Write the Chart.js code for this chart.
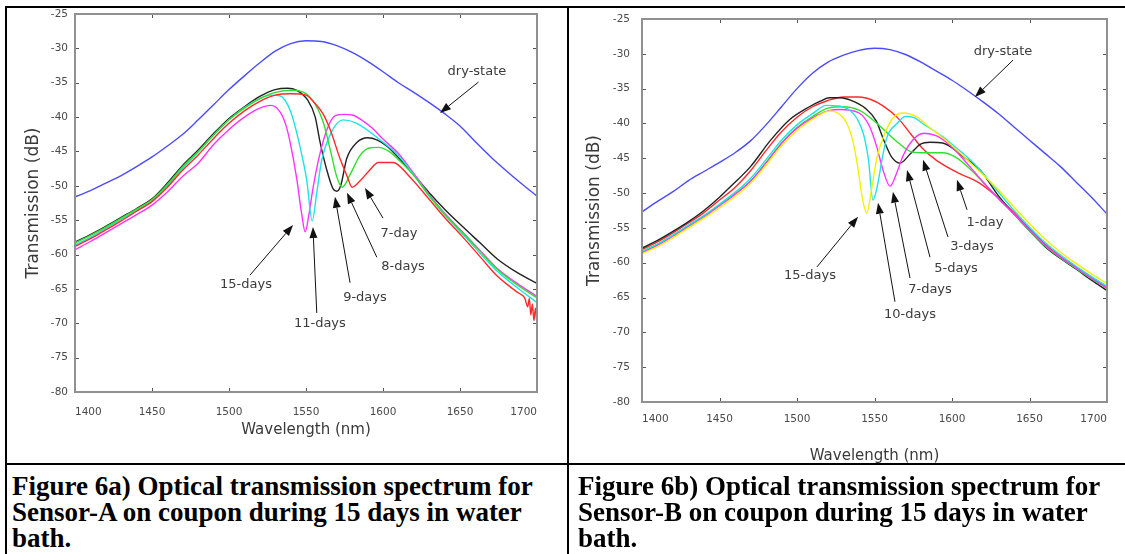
<!DOCTYPE html>
<html lang="en">
<head>
<meta charset="utf-8">
<title>Optical transmission spectra, Sensor-A and Sensor-B</title>
<script src="https://cdn.jsdelivr.net/npm/chart.js@4.4.1/dist/chart.umd.min.js"></script>
<style>
  html, body { margin: 0; padding: 0; background: #fff; }
  body { position: relative; width: 1125px; height: 554px; overflow: hidden; }
  canvas { position: absolute; top: 0; filter: blur(0.5px); }
  #spectrum-a { left: 0; }
  #spectrum-b { left: 568px; }
  .rule { position: absolute; background: #000; }
  .caption {
    position: absolute; top: 473px; margin: 0;
    font: bold 27px "Liberation Serif", "Times New Roman", serif;
    line-height: 26px; color: #000; white-space: nowrap;
  }
</style>
</head>
<body>
<canvas id="spectrum-a" width="568" height="463"></canvas>
<canvas id="spectrum-b" width="557" height="470"></canvas>

<div class="rule" style="left:5px; top:6px; width:1120px; height:2px"></div>
<div class="rule" style="left:5px; top:6px; width:2px; height:548px"></div>
<div class="rule" style="left:567px; top:6px; width:2px; height:548px"></div>
<div class="rule" style="left:5px; top:463px; width:1120px; height:2px"></div>

<p class="caption" style="left:12px">Figure 6a) Optical transmission spectrum for<br>Sensor-A on coupon during 15 days in water<br>bath.</p>
<p class="caption" style="left:578px">Figure 6b) Optical transmission spectrum for<br>Sensor-B on coupon during 15 days in water<br>bath.</p>

<script>
(function () {
  const wavelengthTicks = [1400, 1450, 1500, 1550, 1600, 1650, 1700];
  const transmissionTicks = [-80, -75, -70, -65, -60, -55, -50, -45, -40, -35, -30, -25];

  // Sensor-A spectra, [wavelength (nm), transmission (dB)]
  const dryA = [[1400,-51.6],[1410,-50.7],[1420,-49.6],[1430,-48.5],[1440,-47.2],[1450,-45.8],[1460,-44.2],[1470,-42.5],[1480,-40.4],[1490,-38.2],[1500,-36],[1510,-34],[1520,-32.1],[1530,-30.4],[1540,-29.3],[1550,-28.9],[1560,-29],[1570,-29.6],[1580,-30.6],[1590,-31.9],[1600,-33.4],[1610,-35],[1620,-36.4],[1630,-37.9],[1640,-39.5],[1650,-41.3],[1660,-43.6],[1670,-45.8],[1680,-47.8],[1690,-49.7],[1700,-51.5]];
  const day7A = [[1400,-58.8],[1410,-57.7],[1420,-56.4],[1430,-55.1],[1440,-53.7],[1450,-52.3],[1460,-50.2],[1470,-47.7],[1480,-45.5],[1490,-43.1],[1500,-40.9],[1510,-39.1],[1520,-37.7],[1530,-36.8],[1540,-36.6],[1550,-36.8],[1555,-37.8],[1561,-39.5],[1566,-42],[1572,-46],[1576.5,-48.5],[1580,-50.2],[1585,-49.3],[1591,-47.8],[1597,-46.6],[1606.5,-46.6],[1617,-48.6],[1629,-51.7],[1640,-54.6],[1652,-57.5],[1663,-60.3],[1674,-63.1],[1682,-64.6],[1688,-65.6],[1692,-66.3],[1694,-67.6],[1695,-66.4],[1696,-68.8],[1697,-67.2],[1698,-69.6],[1699,-67.8],[1700,-70.2]];
  const day8A = [[1400,-58.3],[1410,-57.2],[1420,-56],[1430,-54.7],[1440,-53.4],[1450,-52],[1460,-49.8],[1470,-47.2],[1480,-45],[1490,-42.6],[1500,-40.4],[1510,-38.7],[1520,-37.3],[1530,-36.4],[1542,-36.1],[1553,-37.2],[1561,-40.6],[1566,-45],[1570,-48.7],[1573.5,-50.2],[1579,-48.2],[1585,-45.6],[1591,-44.5],[1597,-44.4],[1604,-45],[1611,-46.4],[1620,-48.5],[1630,-51.4],[1640,-54.1],[1652,-56.9],[1663,-59.5],[1674,-62.1],[1687,-64.4],[1700,-66.3]];
  const day9A = [[1400,-58.2],[1410,-57.1],[1420,-55.9],[1430,-54.6],[1440,-53.3],[1450,-51.9],[1460,-49.6],[1470,-47],[1480,-44.8],[1490,-42.4],[1500,-40.2],[1510,-38.5],[1520,-37],[1530,-36],[1538,-35.8],[1544,-36.1],[1551,-37.5],[1556,-40],[1559,-43.5],[1563.5,-47.7],[1567.5,-50.4],[1570,-50.8],[1572.5,-50],[1576.5,-46],[1583,-43.7],[1590,-43],[1596,-43.3],[1603,-44.3],[1612,-46.4],[1620,-48.4],[1630,-51],[1640,-53.4],[1652,-56],[1663,-58.3],[1674,-60.6],[1687,-62.6],[1700,-64.2]];
  const day11A = [[1400,-58.6],[1410,-57.5],[1420,-56.2],[1430,-54.9],[1440,-53.6],[1450,-52.2],[1460,-50],[1470,-47.4],[1480,-45.1],[1490,-42.6],[1500,-40.4],[1510,-38.6],[1520,-37.3],[1527,-36.8],[1533,-36.9],[1540,-39.2],[1546,-44.2],[1550.5,-49.2],[1554,-55.1],[1557,-51],[1560,-46.5],[1566,-42.4],[1574,-40.4],[1583,-40.9],[1598,-43.3],[1610,-45.6],[1620,-48.4],[1630,-51.5],[1640,-54.2],[1652,-57.1],[1663,-59.8],[1674,-62.4],[1687,-64.8],[1700,-67]];
  const day15A = [[1400,-59.3],[1410,-58.1],[1420,-56.8],[1430,-55.5],[1440,-54.2],[1450,-52.8],[1460,-50.9],[1470,-48.6],[1480,-46.7],[1490,-44],[1500,-41.8],[1510,-40],[1520,-38.7],[1527,-38.3],[1533,-39.2],[1537,-41.2],[1540,-44],[1544,-49],[1547,-53.8],[1549.5,-56.7],[1552,-54],[1554.5,-50.4],[1559,-45.4],[1564,-41.6],[1569,-39.8],[1575,-39.6],[1580,-39.7],[1586,-40.4],[1593,-41.6],[1600,-43.2],[1610,-45.3],[1620,-48.2],[1630,-51.3],[1640,-54],[1652,-56.8],[1663,-59.4],[1674,-62],[1687,-64.2],[1700,-66.1]];

  // Sensor-B spectra
  const dryB = [[1400,-52.7],[1410,-51.2],[1420,-49.8],[1430,-48.2],[1440,-46.9],[1450,-45.6],[1460,-44.2],[1470,-42.5],[1480,-40.2],[1490,-37.6],[1500,-35],[1510,-32.8],[1520,-31.2],[1530,-30.2],[1540,-29.5],[1550,-29.2],[1560,-29.4],[1570,-30.1],[1580,-31.2],[1590,-32.5],[1600,-33.8],[1610,-35.3],[1620,-36.9],[1630,-38.6],[1640,-40.5],[1650,-42.4],[1660,-44.3],[1670,-46.2],[1680,-48.4],[1690,-50.6],[1700,-53]];
  const day1B = [[1400,-58.1],[1410,-57],[1420,-55.7],[1430,-54.3],[1440,-52.8],[1450,-51],[1460,-49.2],[1470,-46.8],[1480,-43.9],[1490,-41.2],[1500,-39.1],[1510,-37.6],[1520,-36.7],[1530,-36.2],[1540,-36.2],[1548,-36.6],[1555,-37.4],[1565,-39.2],[1573,-41.4],[1581,-43.6],[1590,-45.3],[1603,-47],[1618,-48.6],[1630,-50.7],[1640,-52.8],[1650,-55.1],[1660,-57.3],[1670,-59.1],[1680,-60.6],[1690,-62.1],[1700,-63.5]];
  const day3B = [[1400,-58.5],[1410,-57.4],[1420,-56.1],[1430,-54.7],[1440,-53.3],[1450,-51.7],[1460,-50.1],[1470,-48.3],[1480,-45.6],[1490,-42.8],[1500,-40.6],[1510,-39],[1520,-37.8],[1530,-37.6],[1540,-38.1],[1549,-39.5],[1557,-41.1],[1565.5,-42.8],[1573,-44],[1580,-44.2],[1594,-44.2],[1602,-44.8],[1612,-46.6],[1622,-48.9],[1632,-51.2],[1640,-53],[1650,-55.4],[1660,-57.6],[1670,-59.3],[1680,-60.8],[1690,-62.3],[1700,-63.7]];
  const day5B = [[1400,-57.9],[1410,-56.8],[1420,-55.5],[1430,-54.1],[1440,-52.5],[1450,-50.6],[1457,-49.1],[1470,-46.2],[1483,-42.4],[1495,-39.5],[1508,-37.6],[1515,-36.8],[1521,-36.3],[1528,-36.3],[1535,-36.7],[1544,-37.8],[1551,-39.6],[1556,-42.4],[1561,-44.8],[1566.5,-45.7],[1573,-44.4],[1579.5,-43],[1586,-42.7],[1594,-42.8],[1607.5,-44.8],[1618.5,-46.8],[1630,-50.4],[1640,-53],[1650,-55.4],[1660,-57.7],[1670,-59.4],[1680,-60.9],[1690,-62.5],[1700,-64]];
  const day7B = [[1400,-58.6],[1410,-57.5],[1420,-56.2],[1430,-54.8],[1440,-53.4],[1450,-51.8],[1460,-50.2],[1470,-48.3],[1480,-45.7],[1490,-42.9],[1500,-40.7],[1510,-39.2],[1520,-38.2],[1528,-38],[1540,-38.5],[1547,-40.5],[1551.5,-43.4],[1555.5,-46.7],[1560,-49],[1564.5,-47],[1568.5,-44.6],[1575,-42.3],[1582,-41.4],[1590,-41.8],[1600,-43.4],[1610,-45.8],[1620,-48.4],[1630,-50.8],[1640,-53],[1650,-55.3],[1660,-57.5],[1670,-59.2],[1680,-60.7],[1690,-62.2],[1700,-63.6]];
  const day10B = [[1400,-58.3],[1410,-57.3],[1420,-56],[1430,-54.6],[1440,-53.2],[1450,-51.6],[1460,-49.9],[1470,-47.9],[1480,-45.2],[1490,-42.4],[1500,-40.2],[1510,-38.6],[1519,-37.4],[1527,-37.5],[1534,-38.1],[1539,-39.4],[1543,-41.6],[1546,-45],[1549,-51],[1552,-48.8],[1555,-45],[1558,-42],[1564.5,-40],[1570,-39],[1576,-39.2],[1581,-40],[1594,-41.9],[1600,-43],[1614,-45.7],[1629,-49.6],[1640,-52.5],[1650,-54.9],[1660,-57.1],[1670,-58.9],[1680,-60.5],[1690,-62],[1700,-63.4]];
  const day15B = [[1400,-58.7],[1410,-57.7],[1420,-56.4],[1430,-55],[1440,-53.6],[1450,-52.1],[1460,-50.5],[1470,-48.6],[1480,-46],[1490,-43.2],[1500,-41],[1510,-39.4],[1516,-38.6],[1521,-38.2],[1527,-38.6],[1532,-39.9],[1536,-42.5],[1539,-46],[1542,-50.5],[1545,-52.9],[1548,-49.6],[1551.5,-45],[1555,-42.4],[1561,-39.5],[1568,-38.5],[1577,-39],[1584,-40.3],[1597,-42.6],[1613,-45.9],[1629,-49.3],[1640,-52],[1650,-54.4],[1660,-56.6],[1670,-58.5],[1680,-60.1],[1690,-61.6],[1700,-63]];

  const seriesA = [
    { label: 'dry-state', color: '#4b4bff', points: dryA },
    { label: '7-day', color: '#ff2a2a', points: day7A },
    { label: '8-days', color: '#2fe02f', points: day8A },
    { label: '11-days', color: '#1fe3e3', points: day11A },
    { label: '15-days', color: '#ff33ff', points: day15A },
    { label: '9-days', color: '#222222', points: day9A }
  ];
  const seriesB = [
    { label: 'dry-state', color: '#4b4bff', points: dryB },
    { label: '15-days', color: '#f2f200', points: day15B },
    { label: '10-days', color: '#1fe3e3', points: day10B },
    { label: '7-days', color: '#ff33ff', points: day7B },
    { label: '3-days', color: '#2fe02f', points: day3B },
    { label: '5-days', color: '#222222', points: day5B },
    { label: '1-day', color: '#ff2a2a', points: day1B }
  ];

  // callouts: text centre, arrow tail and arrow tip, all in data units
  const notesA = [
    { text: 'dry-state', at: [1661, -33.4], from: [1662, -34.9], to: [1637, -39.4] },
    { text: '7-day', at: [1610.4, -56.9], from: [1600, -54.7], to: [1588.3, -50.3] },
    { text: '8-days', at: [1613, -61.8], from: [1596, -60.4], to: [1576.6, -51] },
    { text: '9-days', at: [1588.3, -66.2], from: [1578.6, -64.1], to: [1568.8, -51.6] },
    { text: '11-days', at: [1559, -70], from: [1557, -68.5], to: [1554.5, -56] },
    { text: '15-days', at: [1511, -64.4], from: [1513.6, -63], to: [1541.6, -55.7] }
  ];
  const notesB = [
    { text: 'dry-state', at: [1632.9, -29.7], from: [1639.4, -30.9], to: [1614.8, -36.2] },
    { text: '1-day', at: [1621.3, -54.3], from: [1609.7, -52.4], to: [1603.2, -48.1] },
    { text: '3-days', at: [1612.9, -57.7], from: [1597.4, -56.3], to: [1581.3, -45.2] },
    { text: '5-days', at: [1602.6, -60.8], from: [1585.8, -59.2], to: [1571, -46.7] },
    { text: '7-days', at: [1585.8, -63.9], from: [1572.9, -62.2], to: [1561.9, -49.8] },
    { text: '10-days', at: [1572.9, -67.5], from: [1563.2, -65.6], to: [1552.3, -51.4] },
    { text: '15-days', at: [1508.4, -61.8], from: [1512.9, -60.6], to: [1539.4, -53.4] }
  ];

  function drawArrow(ctx, x0, y0, x1, y1) {
    const ang = Math.atan2(y1 - y0, x1 - x0);
    const len = 11, half = 4;
    const bx = x1 - len * Math.cos(ang);
    const by = y1 - len * Math.sin(ang);
    ctx.beginPath();
    ctx.moveTo(x0, y0);
    ctx.lineTo(bx, by);
    ctx.stroke();
    ctx.beginPath();
    ctx.moveTo(x1, y1);
    ctx.lineTo(bx + half * Math.sin(ang), by - half * Math.cos(ang));
    ctx.lineTo(bx - half * Math.sin(ang), by + half * Math.cos(ang));
    ctx.closePath();
    ctx.fill();
  }

  function buildSpectrum(id, series, notes, box) {
    const canvas = document.getElementById(id);
    if (!canvas || typeof Chart === 'undefined') return;

    const tickFont = { family: 'DejaVu Sans', size: 10.5 };
    const xTitleFont = { family: 'DejaVu Sans', size: 15 };
    const yTitleFont = { family: 'DejaVu Sans', size: 17 };

    // axis frame with inward ticks, then the arrows and their labels
    const overlay = {
      id: 'overlay',
      afterDatasetsDraw(chart) {
        const { ctx, chartArea: a, scales: { x, y } } = chart;
        ctx.save();
        ctx.strokeStyle = '#555';
        ctx.lineWidth = 1;
        ctx.beginPath();
        wavelengthTicks.forEach((v) => {
          const px = Math.round(x.getPixelForValue(v)) + 0.5;
          ctx.moveTo(px, a.bottom);
          ctx.lineTo(px, a.bottom - 4);
          ctx.moveTo(px, a.top);
          ctx.lineTo(px, a.top + 4);
        });
        transmissionTicks.forEach((v) => {
          const py = Math.round(y.getPixelForValue(v)) + 0.5;
          ctx.moveTo(a.left, py);
          ctx.lineTo(a.left + 4, py);
          ctx.moveTo(a.right, py);
          ctx.lineTo(a.right - 4, py);
        });
        ctx.stroke();
        ctx.strokeStyle = '#909090';
        ctx.lineWidth = 2;
        ctx.strokeRect(a.left, a.top, a.right - a.left, a.bottom - a.top);

        ctx.strokeStyle = '#111';
        ctx.fillStyle = '#111';
        ctx.lineWidth = 1;
        notes.forEach((n) => {
          drawArrow(ctx,
            x.getPixelForValue(n.from[0]), y.getPixelForValue(n.from[1]),
            x.getPixelForValue(n.to[0]), y.getPixelForValue(n.to[1]));
        });
        ctx.font = '13px "DejaVu Sans"';
        ctx.fillStyle = '#3c3c3c';
        ctx.textAlign = 'center';
        ctx.textBaseline = 'middle';
        notes.forEach((n) => {
          ctx.fillText(n.text, x.getPixelForValue(n.at[0]), y.getPixelForValue(n.at[1]));
        });
        ctx.restore();
      }
    };

    // eslint-disable-next-line no-undef
    new Chart(canvas.getContext('2d'), {
      type: 'line',
      data: {
        datasets: series.map((s) => ({
          label: s.label,
          data: s.points.map((p) => ({ x: p[0], y: p[1] })),
          borderColor: s.color,
          borderWidth: 1.4,
          pointRadius: 0,
          fill: false,
          cubicInterpolationMode: 'monotone'
        }))
      },
      options: {
        responsive: false,
        animation: false,
        events: [],
        layout: { padding: { left: 0, top: box.padTop, right: box.padRight, bottom: 0 } },
        scales: {
          x: {
            type: 'linear',
            min: 1400,
            max: 1700,
            afterBuildTicks: (s) => { s.ticks = wavelengthTicks.map((v) => ({ value: v })); },
            afterFit: (s) => { s.height = box.xHeight; },
            grid: { display: false, drawTicks: false },
            border: { display: false },
            ticks: {
              font: tickFont,
              color: '#4a4a4a',
              padding: box.xTickPad,
              maxRotation: 0,
              align: 'inner',
              callback: (v) => String(v)
            },
            title: {
              display: true,
              text: 'Wavelength (nm)',
              font: xTitleFont,
              color: '#3a3a3a',
              padding: { top: 0, bottom: box.xTitlePad }
            }
          },
          y: {
            type: 'linear',
            min: -80,
            max: -25,
            afterBuildTicks: (s) => { s.ticks = transmissionTicks.map((v) => ({ value: v })); },
            afterFit: (s) => { s.width = box.yWidth; },
            grid: { display: false, drawTicks: false },
            border: { display: false },
            ticks: {
              font: tickFont,
              color: '#4a4a4a',
              padding: box.yTickPad,
              callback: (v) => String(v)
            },
            title: {
              display: true,
              text: 'Transmission (dB)',
              font: yTitleFont,
              color: '#3a3a3a',
              padding: { top: box.yTitlePad, bottom: 0 }
            }
          }
        },
        plugins: {
          legend: { display: false },
          tooltip: { enabled: false }
        }
      },
      plugins: [overlay]
    });
  }

  function init() {
    buildSpectrum('spectrum-a', seriesA, notesA, {
      padTop: 14, padRight: 31, yWidth: 75, xHeight: 71,
      xTickPad: 14, yTickPad: 7, xTitlePad: 24, yTitlePad: 23.8
    });
    buildSpectrum('spectrum-b', seriesB, notesB, {
      padTop: 19, padRight: 18, yWidth: 74, xHeight: 68,
      xTickPad: 11, yTickPad: 12, xTitlePad: 5, yTitlePad: 16.8
    });
  }

  if (document.readyState === 'loading') {
    document.addEventListener('DOMContentLoaded', init);
  } else {
    init();
  }
})();
</script>
</body>
</html>
